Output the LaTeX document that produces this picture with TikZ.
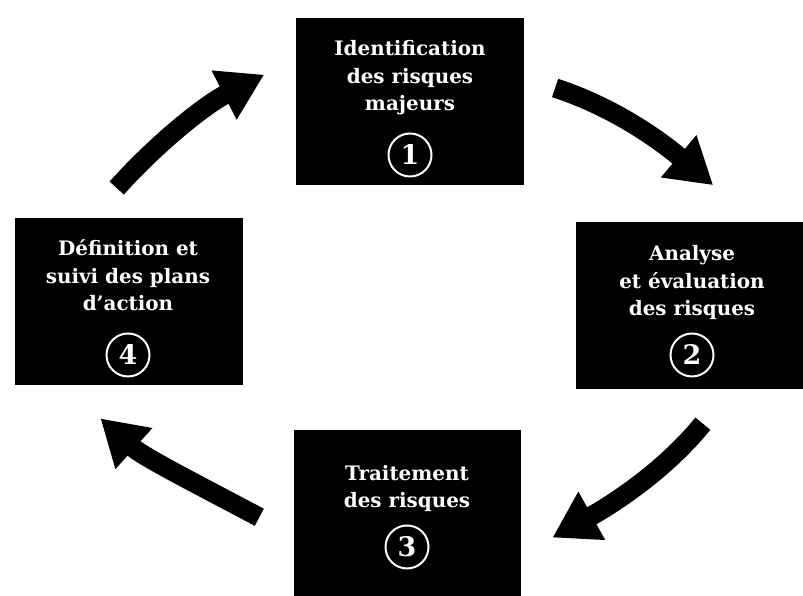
\documentclass[tikz,border=0pt]{standalone}
\usepackage{fontspec}
\setmainfont{DejaVu Serif}
\usetikzlibrary{arrows.meta,positioning}

\begin{document}
\begin{tikzpicture}[x=0.03cm, y=0.03cm, font=\bfseries]
    \tikzstyle{box_style} = [fill=black, minimum width=6.81cm, minimum height=5.01cm, inner sep=0pt]
    \tikzstyle{text_style} = [white, align=center, inner sep=0pt, text depth=0pt, font=\bfseries\fontsize{17}{23.5}\selectfont]
    \tikzstyle{num_style} = [draw=white, line width=1.7pt, circle, minimum size=1.29cm, inner sep=0pt, text=white, font=\bfseries\fontsize{23}{23}\selectfont]
    \tikzstyle{arrow_style} = [-{Triangle[length=1.35cm, width=1.56cm]}, black, line width=0.58cm]

    \useasboundingbox (0,0) rectangle (803,596);

    % the four steps
    \node[box_style] (b1) at (410,494) {};
    \node[box_style] (b2) at (689.5,290) {};
    \node[box_style] (b3) at (407.5,82.5) {};
    \node[box_style] (b4) at (129,294.5) {};

    \node[num_style] (c1) at (410,441) {1};
    \node[num_style] (c2) at (692,241) {2};
    \node[num_style] (c3) at (407,49) {3};
    \node[num_style] (c4) at (128,241) {4};

    \node[text_style, above=0.64cm of c1] (t1) {Identification\\des risques\\majeurs};
    \node[text_style, above=0.5cm of c2] (t2) {Analyse\\et évaluation\\des risques};
    \node[text_style, above=0.5cm of c3] (t3) {Traitement\\des risques};
    \node[text_style, above=0.64cm of c4] (t4) {Définition et\\suivi des plans\\d’action};

    % the cycle
    \draw[arrow_style, shorten <=0.99cm, shorten >=1.73cm] (b1.12) to[out=-18, in=140] (b2.51);
    \draw[arrow_style, shorten <=1.31cm, shorten >=1.07cm] (b2.-64.5) to[out=231, in=29] (b3.-20);
    \draw[arrow_style, shorten <=1.17cm, shorten >=1.49cm] (b3.191.4) to[out=152, in=-42] (b4.232.5);
    \draw[arrow_style, shorten <=1.2cm, shorten >=1.08cm] (b4.115.6) to[out=48, in=207] (b1.159.6);
\end{tikzpicture}
\end{document}
